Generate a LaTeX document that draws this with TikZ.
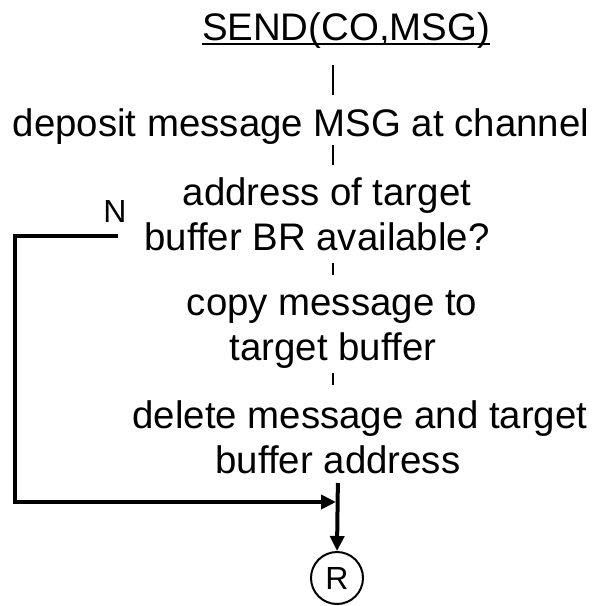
\documentclass[tikz,border=0pt]{standalone}
\usepackage{fontspec}
\setmainfont{Liberation Sans}
\usetikzlibrary{arrows.meta}
\begin{document}
\begin{tikzpicture}[x=1pt,y=-1pt,
  txt/.style={inner sep=0pt, anchor=base, font=\fontsize{38.4}{45}\selectfont},
  lbl/.style={inner sep=0pt, anchor=base, font=\fontsize{32}{38}\selectfont},
  thinconn/.style={line width=2.5pt},
  thickconn/.style={line width=4pt},
  tip/.style={-{Triangle[length=15pt,width=14pt]}}
]
\useasboundingbox (0,0) rectangle (600,606);
% text nodes
\node[txt] (send) at (346,40) {SEND(CO,MSG)};
\draw[line width=2pt] ([yshift=-4pt]send.base west) -- ([yshift=-4pt]send.base east);
\node[txt] (deposit) at (301,136) {deposit message MSG at channel};
\node[txt] (addr) at (327,205) {address of target};
\node[txt] (bufBR) at (317,250) {buffer BR available?};
\node[txt] (copy) at (332,315) {copy message to};
\node[txt] (tbuf) at (333,360) {target buffer};
\node[txt] (del) at (360,428) {delete message and target};
\node[txt] (bufaddr) at (338,473) {buffer address};
\node[lbl] (N) at (115,222) {N};
\node[draw, circle, line width=2pt, minimum size=52pt, inner sep=0pt,
      font=\fontsize{32}{38}\selectfont] (R) at (337,578) {R};
% helper coordinates
\coordinate (lx) at (333,0);
\coordinate (lx2) at (338,0);
\coordinate (lft) at (15,502);
\coordinate (j) at (338,502);
% main vertical connectors
\draw[thinconn, shorten <=25pt, shorten >=41pt] (send.base -| lx) -- (deposit.base -| lx);
\draw[thinconn, shorten <=9pt, shorten >=40pt] (deposit.base -| lx) -- (addr.base -| lx);
\draw[thinconn, shorten <=13pt, shorten >=40pt] (bufBR.base -| lx) -- (copy.base -| lx);
\draw[thinconn, shorten <=13pt, shorten >=43pt] (tbuf.base -| lx) -- (del.base -| lx);
\draw[thickconn, tip, shorten <=10pt] (bufaddr.base -| lx2) -- (R.north);
% N branch
\draw[thickconn, tip, shorten <=26pt, shorten >=2pt] (bufBR.west) -| (lft) -- (j);
\end{tikzpicture}
\end{document}
